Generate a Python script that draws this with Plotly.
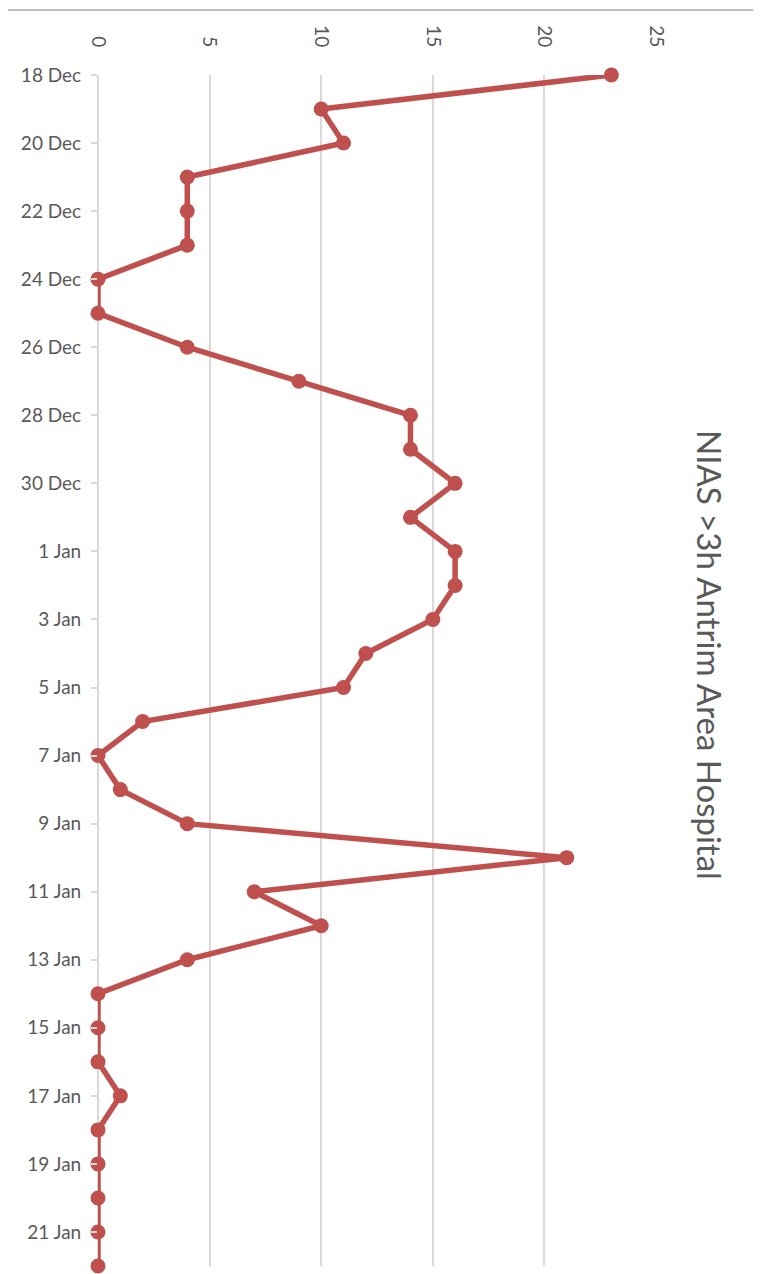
import plotly.graph_objects as go

dates = ["18 Dec", "19 Dec", "20 Dec", "21 Dec", "22 Dec", "23 Dec", "24 Dec", "25 Dec",
         "26 Dec", "27 Dec", "28 Dec", "29 Dec", "30 Dec", "31 Dec", "1 Jan", "2 Jan",
         "3 Jan", "4 Jan", "5 Jan", "6 Jan", "7 Jan", "8 Jan", "9 Jan", "10 Jan",
         "11 Jan", "12 Jan", "13 Jan", "14 Jan", "15 Jan", "16 Jan", "17 Jan", "18 Jan",
         "19 Jan", "20 Jan", "21 Jan", "22 Jan"]
values = [23, 10, 11, 4, 4, 4, 0, 0,
          4, 9, 14, 14, 16, 14, 16, 16,
          15, 12, 11, 2, 0, 1, 4, 21,
          7, 10, 4, 0, 0, 0, 1, 0,
          0, 0, 0, 0]
x_ticks = [0, 5, 10, 15, 20, 25]
title = "NIAS >3h Antrim Area Hospital"

RED = "#C0504D"
GREY = "#595959"
FONT = "Lato"

fig = go.Figure()
fig.add_trace(go.Scatter(
    x=values, y=dates, mode="lines+markers",
    line=dict(color=RED, width=5.5),
    marker=dict(color=RED, size=15),
    cliponaxis=False, showlegend=False,
))

# page body has an 8px margin; compensate so the chart lands where the reference has it
OFF = 8
W, H = 761, 1274
ml = 98 - OFF
mt = 75 - OFF
plot_right = 656 - OFF
plot_bottom = 1266 - OFF
mr = W - plot_right
mb = H - plot_bottom
pw = plot_right - ml
ph = plot_bottom - mt

fig.update_layout(
    width=W, height=H,
    margin=dict(l=ml, r=mr, t=mt, b=mb, pad=0),
    paper_bgcolor="white", plot_bgcolor="white",
    font=dict(family=FONT, color=GREY, size=19),
    xaxis=dict(
        side="top", range=[0, 25], tickvals=x_ticks,
        tickangle=90, showgrid=True, gridcolor="#D9D9D9", gridwidth=1.5,
        zeroline=True, zerolinecolor="#D9D9D9", zerolinewidth=1.5,
        showline=False, ticks="outside", ticklen=20, tickcolor="rgba(0,0,0,0)",
        tickfont=dict(size=19, color=GREY, family=FONT),
    ),
    yaxis=dict(
        type="category", range=[len(dates) - 1, 0],
        tickvals=dates[::2], ticktext=dates[::2],
        showgrid=False, showline=False, zeroline=False,
        ticks="outside", ticklen=6, tickcolor="#D9D9D9", tickwidth=1.5,
        ticklabelstandoff=6,
        tickfont=dict(size=19, color=GREY, family=FONT),
    ),
)

top_y = 1 + (mt - (10 - OFF)) / ph
left_x = -ml / pw
right_x = (756 - OFF - ml) / pw
fig.add_shape(type="line", xref="paper", yref="paper", x0=left_x, x1=right_x,
              y0=top_y, y1=top_y, line=dict(color="#BFBFBF", width=2))
fig.add_shape(type="line", xref="paper", yref="paper", x0=right_x, x1=right_x,
              y0=top_y, y1=-0.1, line=dict(color="#BFBFBF", width=2))

fig.add_annotation(
    text=title, xref="paper", yref="paper",
    x=(710 - OFF - ml) / pw, y=1 - (655 - OFF - mt) / ph,
    showarrow=False, textangle=90,
    font=dict(size=33, color=GREY, family=FONT),
    xanchor="center", yanchor="middle",
)

fig.write_html("out.html")
